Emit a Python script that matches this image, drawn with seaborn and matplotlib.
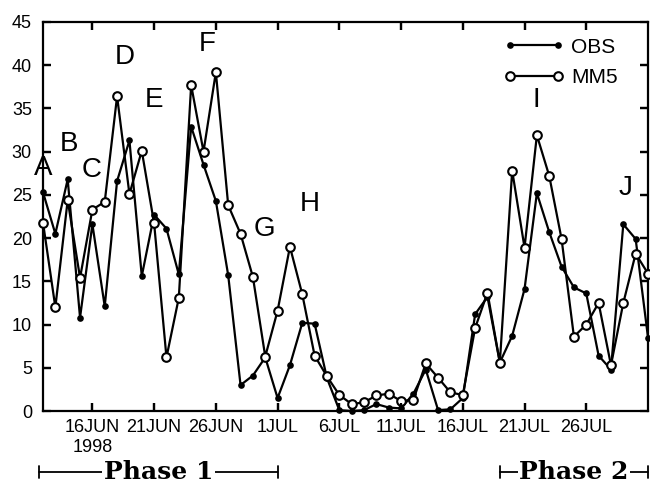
import numpy as np
import pandas as pd
import matplotlib
matplotlib.use("Agg")
import matplotlib.pyplot as plt
from matplotlib.lines import Line2D
from matplotlib.transforms import blended_transform_factory
import seaborn as sns

# Daily rainfall-like series, 12 Jun - 31 Jul 1998
dates = pd.date_range("1998-06-12", "1998-07-31", freq="D")

obs = [25.3, 20.5, 26.8, 10.8, 21.6, 12.1, 26.6, 31.3, 15.6, 22.7,
       21.1, 15.8, 32.9, 28.5, 24.3, 15.7, 3.0, 4.1, 6.2, 1.5,
       5.3, 10.2, 10.1, 3.8, 0.1, 0.0, 0.1, 0.8, 0.4, 0.3,
       2.0, 4.8, 0.1, 0.2, 1.5, 11.2, 13.2, 5.6, 8.7, 14.1,
       25.2, 20.7, 16.7, 14.3, 13.6, 6.4, 4.8, 21.6, 19.9, 8.5]

mm5 = [21.8, 12.0, 24.4, 15.4, 23.3, 24.2, 36.4, 25.1, 30.1, 21.7,
       6.2, 13.1, 37.7, 30.0, 39.2, 23.8, 20.5, 15.5, 6.3, 11.6,
       19.0, 13.5, 6.4, 4.0, 1.85, 0.8, 1.0, 1.8, 2.0, 1.15,
       1.3, 5.5, 3.85, 2.15, 1.85, 9.6, 13.7, 5.6, 27.8, 18.9,
       31.9, 27.2, 19.9, 8.6, 10.0, 12.5, 5.3, 12.5, 18.2, 15.9]

tick_dates = ["1998-06-16", "1998-06-21", "1998-06-26", "1998-07-01", "1998-07-06",
              "1998-07-11", "1998-07-16", "1998-07-21", "1998-07-26"]
tick_labels = ["16JUN\n1998", "21JUN", "26JUN", "1JUL", "6JUL",
               "11JUL", "16JUL", "21JUL", "26JUL"]

event_letters = ["A", "B", "C", "D", "E", "F", "G", "H", "I", "J"]
event_x = [0.03, 2.1, 3.9, 6.6, 8.97, 13.26, 17.9, 21.6, 39.92, 47.2]
event_y = [28.1, 30.9, 27.9, 40.95, 35.98, 42.46, 21.05, 23.95, 35.98, 25.8]

phase_names = ["Phase 1", "Phase 2"]
phase_start = ["1998-06-12", "1998-07-19"]
phase_end = ["1998-07-01", "1998-07-31"]

day0 = dates[0]
day = np.array([(d - day0).days for d in dates])
df = pd.DataFrame({"day": day, "OBS": obs, "MM5": mm5})

plt.rcParams.update({
    "font.family": ["Liberation Sans", "DejaVu Sans"],
    "text.color": "black",
    "xtick.color": "black", "ytick.color": "black",
    "xtick.labelsize": 13, "ytick.labelsize": 13,
    "xtick.major.pad": 6, "ytick.major.pad": 8,
    "axes.edgecolor": "black", "axes.linewidth": 1.6,
    "axes.grid": False,
})

fig = plt.figure(figsize=(6.5, 4.83), dpi=100)
ax = fig.add_axes([43 / 650, 1 - 411 / 483, 605 / 650, 389 / 483])

sns.lineplot(data=df, x="day", y="OBS", ax=ax, color="black", lw=1.6,
             marker="o", markersize=4.8, markeredgewidth=0,
             markerfacecolor="black", clip_on=False, zorder=3)
sns.lineplot(data=df, x="day", y="MM5", ax=ax, color="black", lw=1.6,
             marker="o", markersize=6.2, markeredgewidth=1.5,
             markerfacecolor="white", markeredgecolor="black",
             clip_on=False, zorder=4)

ax.set_xlim(0, 49)
ax.set_ylim(0, 45)
yt = np.arange(0, 46, 5)
ax.set_yticks(yt)
ax.set_yticklabels([str(v) for v in yt])
xt = [(pd.Timestamp(t) - day0).days for t in tick_dates]
ax.set_xticks(xt)
ax.set_xticklabels(tick_labels)
ax.set_xlabel("")
ax.set_ylabel("")
ax.tick_params(direction="in", length=6, width=1.6, color="black",
               top=True, right=True, bottom=True, left=True)

# Inward tick stubs on all four sides
tx = blended_transform_factory(ax.transData, ax.transAxes)
ty = blended_transform_factory(ax.transAxes, ax.transData)
xlen, ylen = 8 / 389, 8 / 605
ax.vlines(xt, 0, xlen, transform=tx, color="black", lw=1.6, zorder=5)
ax.vlines(xt, 1 - xlen, 1, transform=tx, color="black", lw=1.6, zorder=5)
ax.hlines(yt[1:-1], 0, ylen, transform=ty, color="black", lw=1.6, zorder=5)
ax.hlines(yt[1:-1], 1 - ylen, 1, transform=ty, color="black", lw=1.6, zorder=5)

for lab, x, y in zip(event_letters, event_x, event_y):
    ax.text(x, y, lab, fontsize=20, ha="center", va="center", color="black", zorder=6)

handles = [
    Line2D([], [], color="black", lw=1.6, marker="o", markersize=4.8,
           markeredgewidth=0, markerfacecolor="black"),
    Line2D([], [], color="black", lw=1.6, marker="o", markersize=6.2,
           markeredgewidth=1.5, markerfacecolor="white", markeredgecolor="black"),
]
ax.legend(handles, ["OBS", "MM5"], numpoints=2, frameon=False, fontsize=15,
          loc="upper left", bbox_to_anchor=(0.7617, 0.96), borderpad=0,
          borderaxespad=0, handlelength=2.9, handletextpad=0.33, labelspacing=0.55)

# Phase brackets below the date axis
trans = blended_transform_factory(ax.transData, fig.transFigure)
ybar = 1 - 472 / 483
for name, s, e in zip(phase_names, phase_start, phase_end):
    x0 = (pd.Timestamp(s) - day0).days
    x1 = (pd.Timestamp(e) - day0).days
    if name == "Phase 1":
        x0 -= 0.32
    ax.annotate("", xy=(x1, ybar), xytext=(x0, ybar), xycoords=trans,
                textcoords=trans, annotation_clip=False,
                arrowprops=dict(arrowstyle="|-|,widthA=0.45,widthB=0.45",
                                color="black", lw=1.3, shrinkA=0, shrinkB=0))
    ax.text((x0 + x1) / 2, ybar, name, transform=trans, ha="center", va="center",
            fontsize=18, fontweight="bold", family="DejaVu Serif", color="black",
            bbox=dict(facecolor="white", edgecolor="none", pad=1), zorder=10)

fig.savefig("out.png", dpi=100)
